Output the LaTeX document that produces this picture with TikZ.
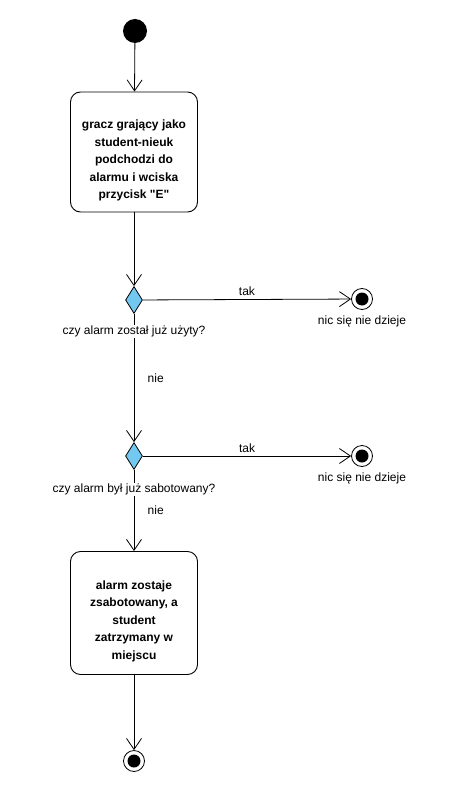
\documentclass[tikz,border=0pt]{standalone}
\usepackage{fontspec}
\setmainfont{Liberation Sans}[Ligatures=TeXOff]
\usetikzlibrary{arrows.meta,positioning,shapes.geometric}
\definecolor{decblue}{HTML}{72C8EE}

\begin{document}
\begin{tikzpicture}[
    x=1pt, y=-1pt,
    font=\fontsize{12}{14}\selectfont,
    action/.style={draw, rounded corners=10pt, align=center, minimum width=127pt,
      font=\fontsize{12}{17.5}\selectfont\bfseries, line width=0.9pt},
    decision/.style={diamond, draw, fill=decblue, minimum width=17pt, minimum height=27pt,
      inner sep=0pt, line width=0.8pt},
    initial/.style={circle, fill=black, minimum size=24pt, inner sep=0pt},
    final/.style={circle, draw, line width=0.8pt, minimum size=21pt, inner sep=0pt,
      path picture={\fill (path picture bounding box.center) circle (6.5pt);}},
    flow/.style={line width=0.8pt, -{Straight Barb[length=11pt,width=15pt,line width=0.8pt]}},
    note/.style={inner sep=1pt, fill=white}
  ]
    \useasboundingbox (0,0) rectangle (460,786);

    \node[initial] (start) at (135,31) {};
    \node[action, minimum height=120pt] (press) at (134,152) {\rule{0pt}{26pt}gracz grający jako\\student-nieuk\\podchodzi do\\alarmu i wciska\\przycisk "E"};
    \node[decision] (used) at (134,300) {};
    \node[final] (nothing1) at (362,299) {};
    \node[decision] (sabot) at (134,456) {};
    \node[final] (nothing2) at (362,456) {};
    \node[action, minimum height=123pt] (stop) at (134,613) {\rule{0pt}{25pt}alarm zostaje\\zsabotowany, a\\student\\zatrzymany w\\miejscu};
    \node[final] (done) at (134,761) {};

    \draw[flow] (start) -- (press);
    \draw[flow] (press) -- (used);
    \draw[flow] (used) -- node[above]{tak} (nothing1);
    \draw[flow] (used) -- node[right=10pt]{nie} (sabot);
    \draw[flow] (sabot) -- node[above]{tak} (nothing2);
    \draw[flow] (sabot) -- node[right=10pt]{nie} (stop);
    \draw[flow] (stop) -- (done);

    \node[note, below=11pt of used] (usedq) {czy alarm został już użyty?};
    \node[note, below=13pt of sabot] (sabotq) {czy alarm był już sabotowany?};
    \node[note, below=5pt of nothing1] (nic1) {nic się nie dzieje};
    \node[note, below=5pt of nothing2] (nic2) {nic się nie dzieje};
  \end{tikzpicture}
\end{document}
